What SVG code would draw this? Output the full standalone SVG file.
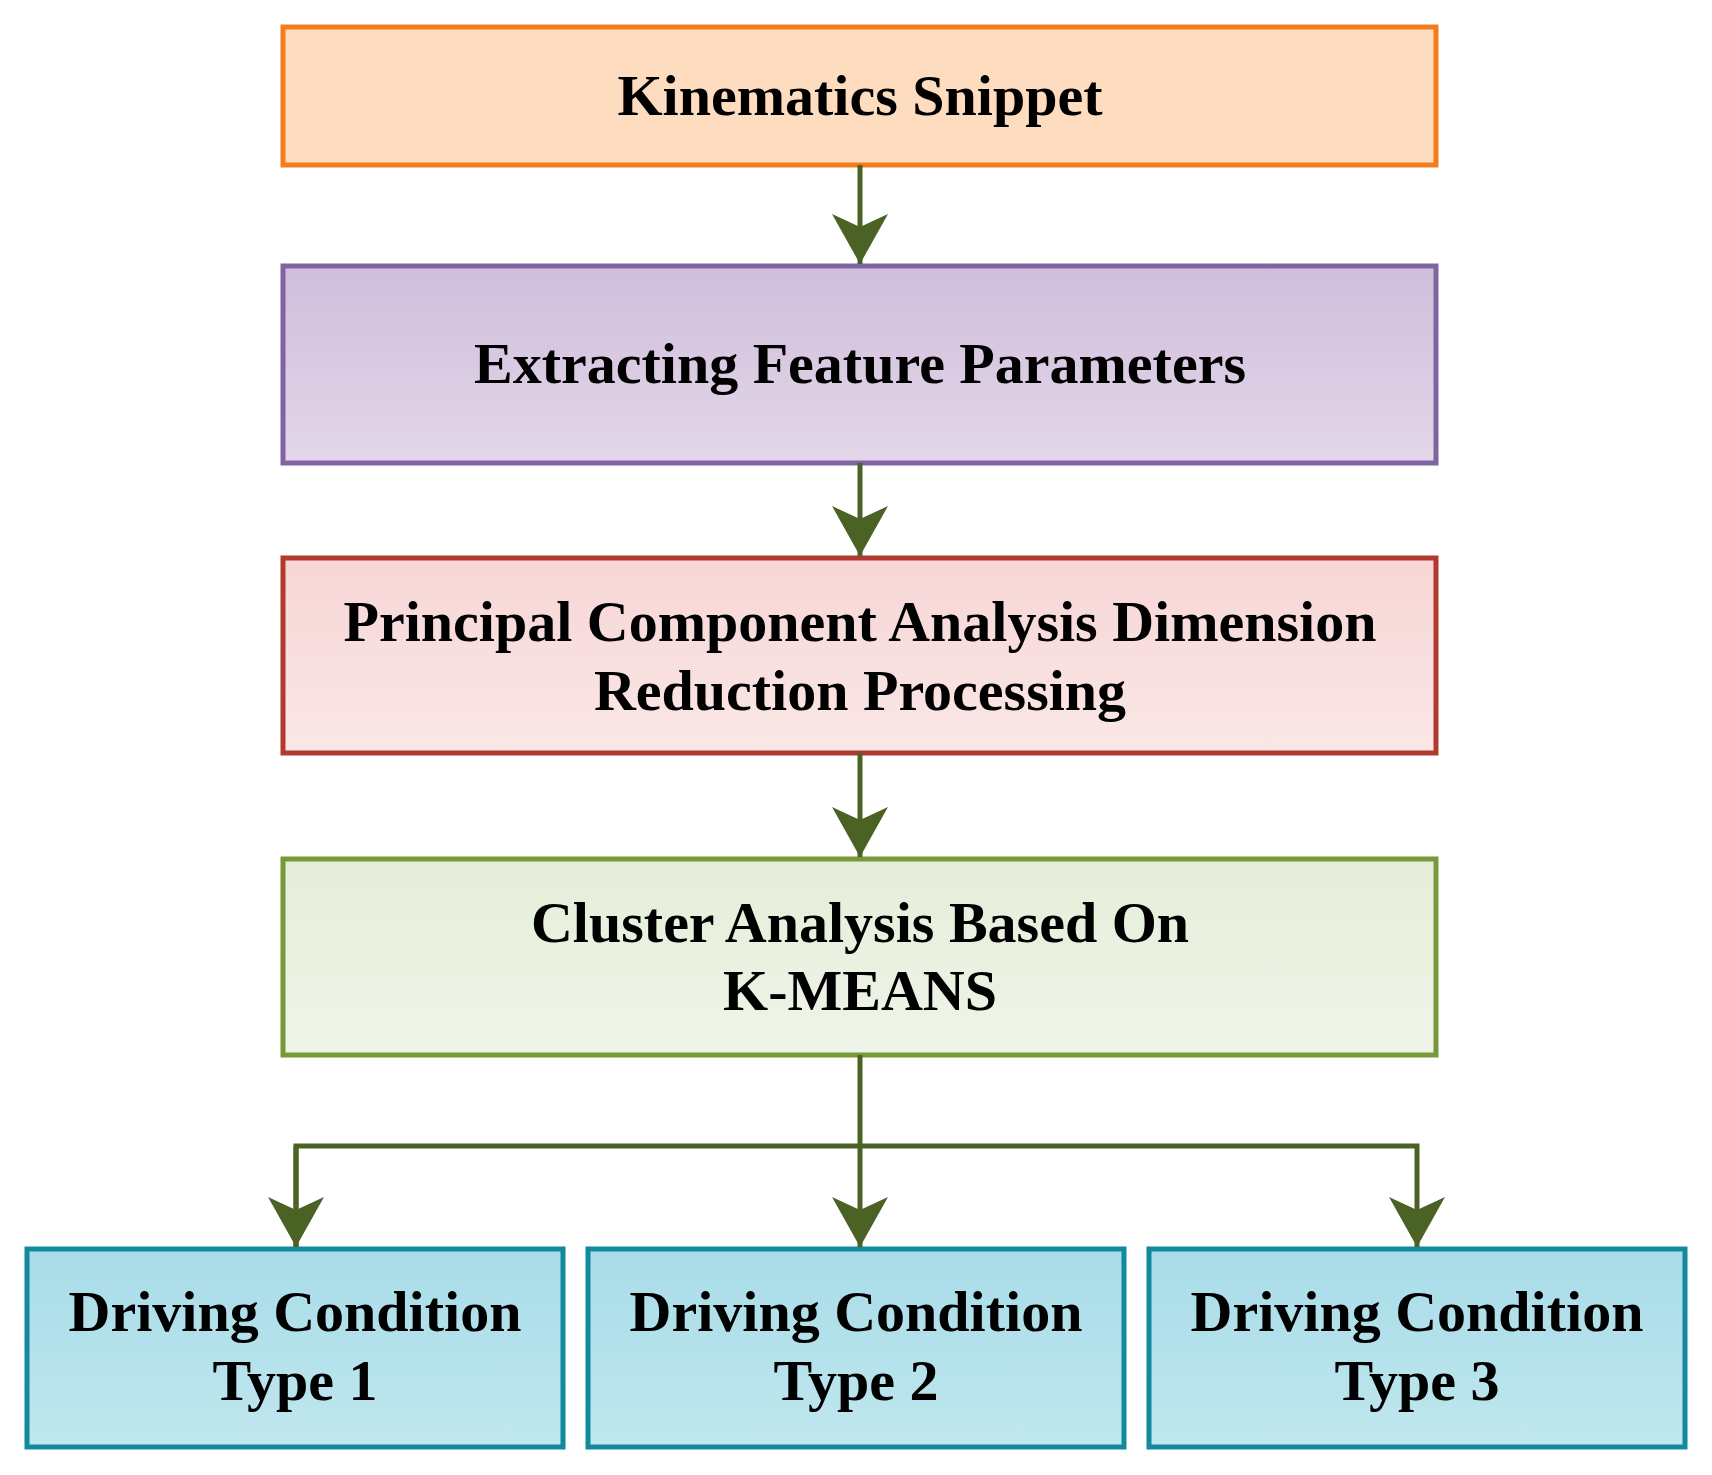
<svg xmlns="http://www.w3.org/2000/svg" width="1712" height="1475" viewBox="0 0 1712 1475">
<style>
text{font-family:"Liberation Serif","Times New Roman",serif;font-weight:bold;font-size:58px;fill:#000;text-anchor:middle}
rect{stroke-width:5}
.c{stroke:#4a6325;stroke-width:5;fill:none}
</style>
<defs>
<linearGradient id="g2" x1="0" y1="0" x2="0" y2="1"><stop offset="0" stop-color="#cfbedb"/><stop offset="1" stop-color="#e3d7e9"/></linearGradient>
<linearGradient id="g3" x1="0" y1="0" x2="0" y2="1"><stop offset="0" stop-color="#f6d6d5"/><stop offset="1" stop-color="#fbe7e7"/></linearGradient>
<linearGradient id="g4" x1="0" y1="0" x2="0" y2="1"><stop offset="0" stop-color="#e5eed9"/><stop offset="1" stop-color="#eff4e8"/></linearGradient>
<linearGradient id="g5" x1="0" y1="0" x2="0" y2="1"><stop offset="0" stop-color="#a8dce8"/><stop offset="1" stop-color="#c0e7ee"/></linearGradient>
<marker id="ah" markerUnits="userSpaceOnUse" markerWidth="52" markerHeight="56" refX="50" refY="28" orient="auto" viewBox="0 0 52 56"><path d="M0,0 L50,28 L0,56 L13,28 Z" fill="#4a6325"/></marker>
</defs>
<g id="n1"><rect x="283" y="27" width="1153" height="138" fill="#fddcc0" stroke="#f57c1a"/><text x="860" y="115">Kinematics Snippet</text></g>
<g id="n2"><rect x="283" y="266" width="1153" height="197" fill="url(#g2)" stroke="#8064a2"/><text x="860" y="383">Extracting Feature Parameters</text></g>
<g id="n3"><rect x="283" y="558" width="1153" height="195" fill="url(#g3)" stroke="#b03a2e"/><text x="860" y="641">Principal Component Analysis Dimension</text><text x="860" y="710">Reduction Processing</text></g>
<g id="n4"><rect x="283" y="859" width="1153" height="196" fill="url(#g4)" stroke="#77993a"/><text x="860" y="942">Cluster Analysis Based On</text><text x="860" y="1010">K-MEANS</text></g>
<g id="n5"><rect x="27" y="1249" width="536" height="198" fill="url(#g5)" stroke="#12899c"/><text x="295" y="1331">Driving Condition</text><text x="295" y="1400">Type 1</text></g>
<g id="n6"><rect x="588" y="1249" width="536" height="198" fill="url(#g5)" stroke="#12899c"/><text x="856" y="1331">Driving Condition</text><text x="856" y="1400">Type 2</text></g>
<g id="n7"><rect x="1149" y="1249" width="536" height="198" fill="url(#g5)" stroke="#12899c"/><text x="1417" y="1331">Driving Condition</text><text x="1417" y="1400">Type 3</text></g>
<g id="connectors">
<path class="c" d="M860,165 V264" marker-end="url(#ah)"/>
<path class="c" d="M860,463 V556" marker-end="url(#ah)"/>
<path class="c" d="M860,753 V857" marker-end="url(#ah)"/>
<path class="c" d="M860,1055 V1247" marker-end="url(#ah)"/>
<path class="c" d="M296,1247 V1146 H1417 V1247" marker-end="url(#ah)"/>
<path class="c" d="M296,1146 V1247" marker-end="url(#ah)"/>
</g>
</svg>
